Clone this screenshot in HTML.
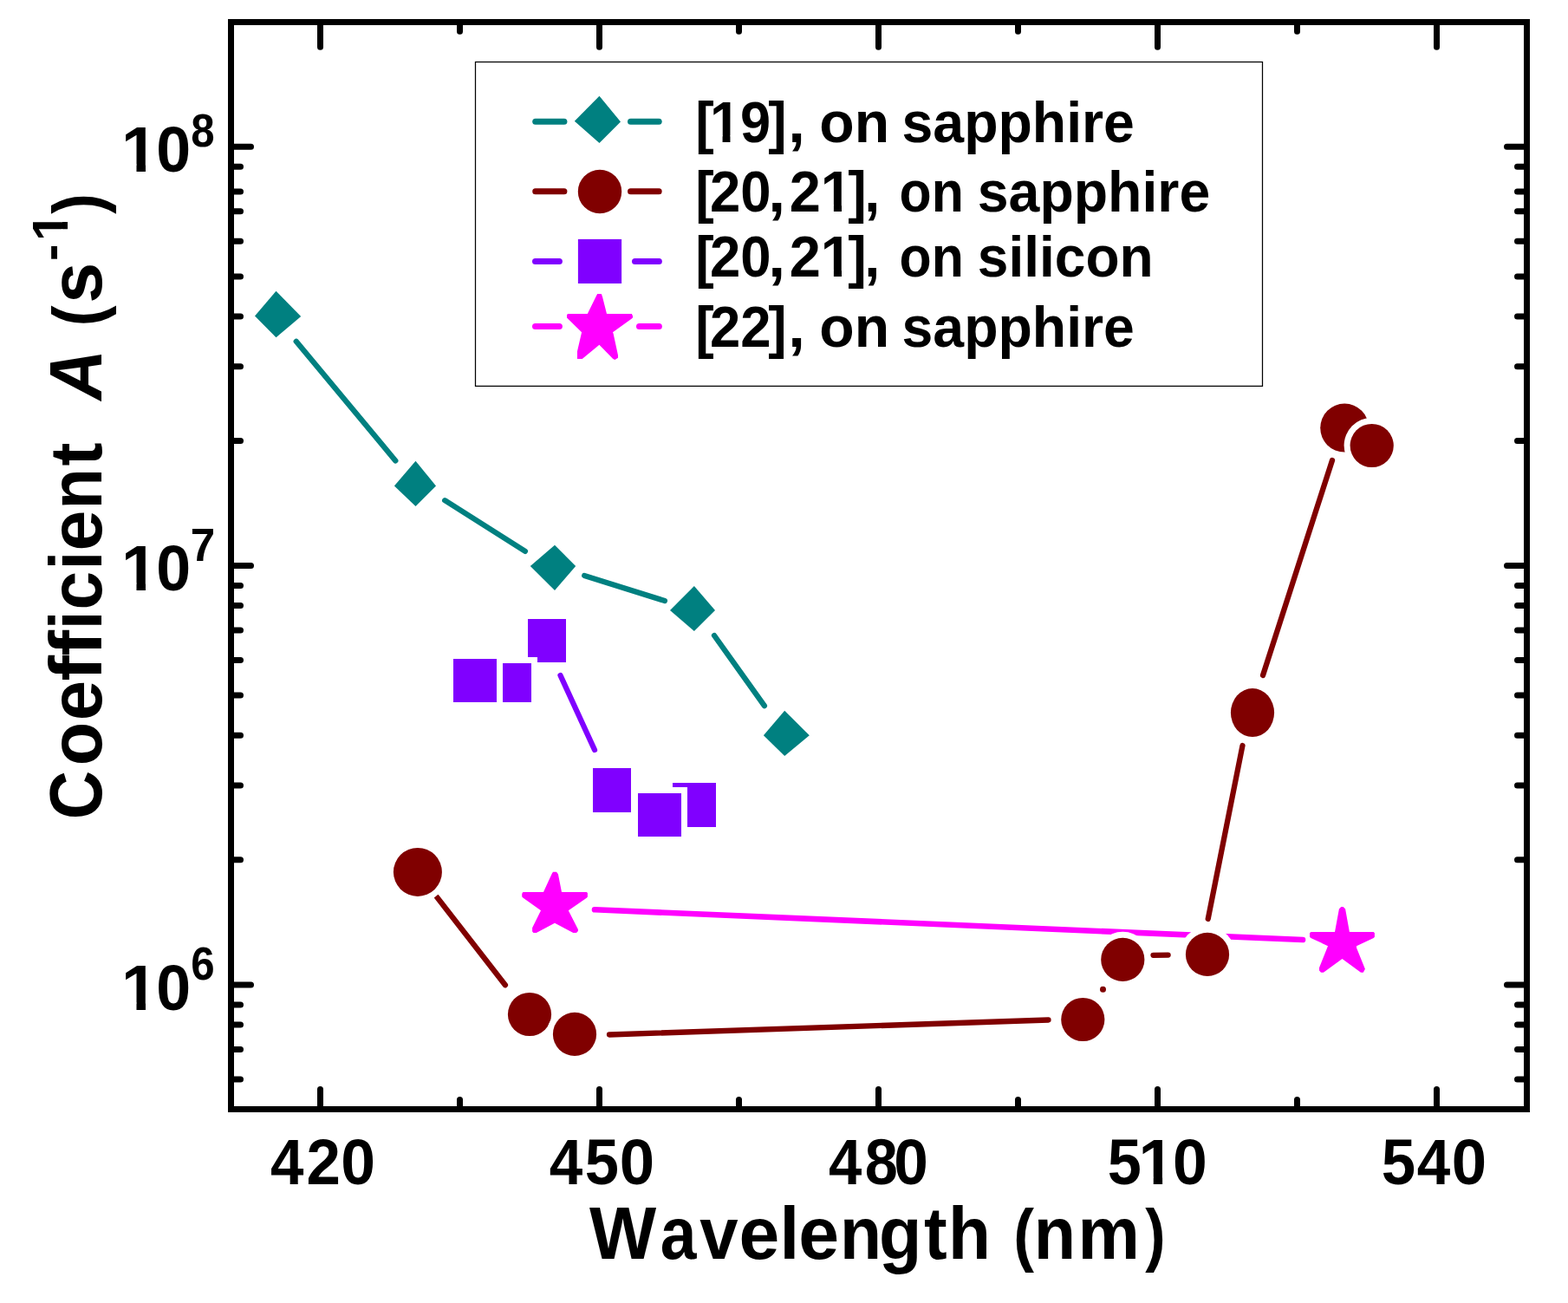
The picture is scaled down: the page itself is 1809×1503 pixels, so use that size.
<!DOCTYPE html>
<html><head><meta charset="utf-8"><title>Coefficient A vs Wavelength</title>
<style>
html,body{margin:0;padding:0;background:#fff;overflow:hidden;}
svg{display:block;}
text{font-family:'Liberation Sans', Arial, sans-serif;font-weight:bold;fill:#000;font-variant-ligatures:none;font-kerning:none;}
</style></head>
<body>
<svg width="1809" height="1503" viewBox="0 0 1809 1503">
<rect width="1809" height="1503" fill="#fff"/>
<rect x="266.5" y="25.5" width="1495.0" height="1254.0" fill="none" stroke="#000" stroke-width="7"/>
<path d="M369.5 1279.5L369.5 1256.5M369.5 25.5L369.5 54.3M691.5 1279.5L691.5 1256.5M691.5 25.5L691.5 54.3M1013.5 1279.5L1013.5 1256.5M1013.5 25.5L1013.5 54.3M1335.5 1279.5L1335.5 1256.5M1335.5 25.5L1335.5 54.3M1657.5 1279.5L1657.5 1256.5M1657.5 25.5L1657.5 54.3M530.5 1279.5L530.5 1268.5M530.5 25.5L530.5 36.3M852.5 1279.5L852.5 1268.5M852.5 25.5L852.5 36.3M1174.5 1279.5L1174.5 1268.5M1174.5 25.5L1174.5 36.3M1496.5 1279.5L1496.5 1268.5M1496.5 25.5L1496.5 36.3M266.5 169.3L289.5 169.3M1761.5 169.3L1738.5 169.3M266.5 652.5L289.5 652.5M1761.5 652.5L1738.5 652.5M266.5 1136L289.5 1136M1761.5 1136L1738.5 1136M266.5 192.2L277.5 192.2M1761.5 192.2L1750.5 192.2M266.5 220.9L277.5 220.9M1761.5 220.9L1750.5 220.9M266.5 243.8L277.5 243.8M1761.5 243.8L1750.5 243.8M266.5 278.3L277.5 278.3M1761.5 278.3L1750.5 278.3M266.5 318.9L277.5 318.9M1761.5 318.9L1750.5 318.9M266.5 364.9L277.5 364.9M1761.5 364.9L1750.5 364.9M266.5 422.7L277.5 422.7M1761.5 422.7L1750.5 422.7M266.5 508.5L277.5 508.5M1761.5 508.5L1750.5 508.5M266.5 675.5L277.5 675.5M1761.5 675.5L1750.5 675.5M266.5 698.6L277.5 698.6M1761.5 698.6L1750.5 698.6M266.5 727.1L277.5 727.1M1761.5 727.1L1750.5 727.1M266.5 761.5L277.5 761.5M1761.5 761.5L1750.5 761.5M266.5 802.1L277.5 802.1M1761.5 802.1L1750.5 802.1M266.5 848.2L277.5 848.2M1761.5 848.2L1750.5 848.2M266.5 905.9L277.5 905.9M1761.5 905.9L1750.5 905.9M266.5 991.8L277.5 991.8M1761.5 991.8L1750.5 991.8M266.5 1159L277.5 1159M1761.5 1159L1750.5 1159M266.5 1182L277.5 1182M1761.5 1182L1750.5 1182M266.5 1210.5L277.5 1210.5M1761.5 1210.5L1750.5 1210.5M266.5 1245L277.5 1245M1761.5 1245L1750.5 1245" stroke="#000" stroke-width="7" stroke-linecap="round" fill="none"/>
<text><tspan x="140.08" y="197.8" font-size="75" textLength="41.71" lengthAdjust="spacingAndGlyphs">1</tspan><tspan x="180.16" y="197.8" font-size="75" textLength="39.88" lengthAdjust="spacingAndGlyphs">0</tspan><tspan x="220.24" y="169.4" font-size="53" textLength="27.38" lengthAdjust="spacingAndGlyphs">8</tspan></text><rect x="143.7" y="189.55" width="13.78" height="9.85" fill="#fff"/><rect x="167.97" y="189.55" width="12.83" height="9.85" fill="#fff"/>
<text><tspan x="140.08" y="680.8" font-size="75" textLength="41.71" lengthAdjust="spacingAndGlyphs">1</tspan><tspan x="180.16" y="680.8" font-size="75" textLength="39.88" lengthAdjust="spacingAndGlyphs">0</tspan><tspan x="219.8" y="646.9" font-size="53" textLength="28.45" lengthAdjust="spacingAndGlyphs">7</tspan></text><rect x="143.7" y="672.55" width="13.78" height="9.85" fill="#fff"/><rect x="167.97" y="672.55" width="12.83" height="9.85" fill="#fff"/>
<text><tspan x="140.08" y="1164.8" font-size="75" textLength="41.71" lengthAdjust="spacingAndGlyphs">1</tspan><tspan x="180.16" y="1164.8" font-size="75" textLength="39.88" lengthAdjust="spacingAndGlyphs">0</tspan><tspan x="220.2" y="1129.7" font-size="53" textLength="27.38" lengthAdjust="spacingAndGlyphs">6</tspan></text><rect x="143.7" y="1156.55" width="13.78" height="9.85" fill="#fff"/><rect x="167.97" y="1156.55" width="12.83" height="9.85" fill="#fff"/>
<text><tspan x="311.95" y="1365.9" font-size="74" textLength="38.42" lengthAdjust="spacingAndGlyphs">4</tspan><tspan x="353.44" y="1365.9" font-size="74" textLength="39.39" lengthAdjust="spacingAndGlyphs">2</tspan><tspan x="393.17" y="1365.9" font-size="74" textLength="39.76" lengthAdjust="spacingAndGlyphs">0</tspan></text>
<text><tspan x="633.85" y="1365.9" font-size="74" textLength="38.52" lengthAdjust="spacingAndGlyphs">4</tspan><tspan x="674.73" y="1365.9" font-size="74" textLength="39.23" lengthAdjust="spacingAndGlyphs">5</tspan><tspan x="714.83" y="1365.9" font-size="74" textLength="40.34" lengthAdjust="spacingAndGlyphs">0</tspan></text>
<text><tspan x="955.96" y="1365.9" font-size="74" textLength="38.31" lengthAdjust="spacingAndGlyphs">4</tspan><tspan x="997.73" y="1365.9" font-size="74" textLength="38.08" lengthAdjust="spacingAndGlyphs">8</tspan><tspan x="1031.18" y="1365.9" font-size="74" textLength="39.64" lengthAdjust="spacingAndGlyphs">0</tspan></text>
<text><tspan x="1277.74" y="1365.9" font-size="74" textLength="39.12" lengthAdjust="spacingAndGlyphs">5</tspan><tspan x="1313.58" y="1365.9" font-size="74" textLength="41.16" lengthAdjust="spacingAndGlyphs">1</tspan><tspan x="1353.07" y="1365.9" font-size="74" textLength="39.76" lengthAdjust="spacingAndGlyphs">0</tspan></text><rect x="1317.15" y="1357.75" width="13.59" height="9.75" fill="#fff"/><rect x="1341.1" y="1357.75" width="12.65" height="9.75" fill="#fff"/>
<text><tspan x="1593.72" y="1365.9" font-size="74" textLength="39.35" lengthAdjust="spacingAndGlyphs">5</tspan><tspan x="1634.85" y="1365.9" font-size="74" textLength="38.52" lengthAdjust="spacingAndGlyphs">4</tspan><tspan x="1674.83" y="1365.9" font-size="74" textLength="40.34" lengthAdjust="spacingAndGlyphs">0</tspan></text>
<text><tspan x="679.92" y="1452" font-size="84.5" textLength="77.16" lengthAdjust="spacingAndGlyphs">W</tspan><tspan x="761.8" y="1452" font-size="84.5" textLength="41.72" lengthAdjust="spacingAndGlyphs">a</tspan><tspan x="807.29" y="1452" font-size="84.5" textLength="44.36" lengthAdjust="spacingAndGlyphs">v</tspan><tspan x="852.42" y="1452" font-size="84.5" textLength="46.76" lengthAdjust="spacingAndGlyphs">e</tspan><tspan x="899.4" y="1452" font-size="84.5" textLength="22.68" lengthAdjust="spacingAndGlyphs">l</tspan><tspan x="921.31" y="1452" font-size="84.5" textLength="46.87" lengthAdjust="spacingAndGlyphs">e</tspan><tspan x="968.91" y="1452" font-size="84.5" textLength="48.07" lengthAdjust="spacingAndGlyphs">n</tspan><tspan x="1014.08" y="1452" font-size="84.5" textLength="49.43" lengthAdjust="spacingAndGlyphs">g</tspan><tspan x="1066.02" y="1452" font-size="84.5" textLength="26.65" lengthAdjust="spacingAndGlyphs">t</tspan><tspan x="1094.1" y="1452" font-size="84.5" textLength="48.97" lengthAdjust="spacingAndGlyphs">h</tspan> <tspan x="1169.35" y="1451" font-size="80.5" textLength="23.72" lengthAdjust="spacingAndGlyphs">(</tspan><tspan x="1192.69" y="1452" font-size="84.5" textLength="48.32" lengthAdjust="spacingAndGlyphs">n</tspan><tspan x="1243.61" y="1452" font-size="84.5" textLength="71.37" lengthAdjust="spacingAndGlyphs">m</tspan><tspan x="1321.13" y="1451" font-size="80.5" textLength="23.36" lengthAdjust="spacingAndGlyphs">)</tspan></text>
<g transform="translate(117.1 0) rotate(-90)"><text><tspan x="-945.21" y="0" font-size="84.5" textLength="56.44" lengthAdjust="spacingAndGlyphs">C</tspan><tspan x="-883.23" y="0" font-size="84.5" textLength="50.45" lengthAdjust="spacingAndGlyphs">o</tspan><tspan x="-831.25" y="0" font-size="84.5" textLength="46.3" lengthAdjust="spacingAndGlyphs">e</tspan><tspan x="-785.52" y="0" font-size="84.5" textLength="29.65" lengthAdjust="spacingAndGlyphs">f</tspan><tspan x="-756.42" y="0" font-size="84.5" textLength="29.65" lengthAdjust="spacingAndGlyphs">f</tspan><tspan x="-726.3" y="0" font-size="84.5" textLength="21.87" lengthAdjust="spacingAndGlyphs">i</tspan><tspan x="-703.53" y="0" font-size="84.5" textLength="44.58" lengthAdjust="spacingAndGlyphs">c</tspan><tspan x="-657.6" y="0" font-size="84.5" textLength="21.87" lengthAdjust="spacingAndGlyphs">i</tspan><tspan x="-635.5" y="0" font-size="84.5" textLength="46.99" lengthAdjust="spacingAndGlyphs">e</tspan><tspan x="-587.41" y="0" font-size="84.5" textLength="47.31" lengthAdjust="spacingAndGlyphs">n</tspan><tspan x="-537.59" y="0" font-size="84.5" textLength="26.98" lengthAdjust="spacingAndGlyphs">t</tspan> <tspan x="-461.55" y="0" font-size="84.5" font-style="italic" textLength="58.28" lengthAdjust="spacingAndGlyphs">A</tspan> <tspan x="-376.35" y="0" font-size="80.5" textLength="23.72" lengthAdjust="spacingAndGlyphs">(</tspan><tspan x="-349.67" y="0" font-size="84.5" textLength="47.04" lengthAdjust="spacingAndGlyphs">s</tspan><tspan x="-301.08" y="-39.6" font-size="57" textLength="19.41" lengthAdjust="spacingAndGlyphs">-</tspan><tspan x="-277.91" y="-39.6" font-size="57" textLength="32.75" lengthAdjust="spacingAndGlyphs">1</tspan><tspan x="-246.87" y="0" font-size="80.5" textLength="23.48" lengthAdjust="spacingAndGlyphs">)</tspan></text><rect x="-275.06" y="-46.02" width="10.8" height="8.02" fill="#fff"/><rect x="-255.99" y="-46.02" width="10.05" height="8.02" fill="#fff"/></g>
<rect x="548.5" y="71.5" width="908" height="373.9" fill="none" stroke="#000" stroke-width="1.25"/>
<text><tspan x="802.37" y="163.9" font-size="67.5" textLength="21.52" lengthAdjust="spacingAndGlyphs">[</tspan><tspan x="818.92" y="163.9" font-size="67.5" textLength="70.33" lengthAdjust="spacingAndGlyphs">19</tspan><tspan x="886.22" y="163.9" font-size="67.5" textLength="21.39" lengthAdjust="spacingAndGlyphs">]</tspan><tspan x="909.21" y="163.9" font-size="67.5" textLength="19.61" lengthAdjust="spacingAndGlyphs">,</tspan> <tspan x="945.32" y="163.9" font-size="67.5" textLength="80.78" lengthAdjust="spacingAndGlyphs">on</tspan> <tspan x="1040.54" y="163.9" font-size="67.5" textLength="268.36" lengthAdjust="spacingAndGlyphs">sapphire</tspan></text><rect x="821.97" y="156.41" width="11.6" height="9.09" fill="#fff"/><rect x="842.45" y="156.41" width="10.8" height="9.09" fill="#fff"/>
<text><tspan x="802.37" y="243.7" font-size="67.5" textLength="21.52" lengthAdjust="spacingAndGlyphs">[</tspan><tspan x="818.9" y="243.7" font-size="67.5" textLength="70.6" lengthAdjust="spacingAndGlyphs">20</tspan><tspan x="886.16" y="243.7" font-size="67.5" textLength="19.81" lengthAdjust="spacingAndGlyphs">,</tspan><tspan x="910.75" y="243.7" font-size="67.5" textLength="72.19" lengthAdjust="spacingAndGlyphs">21</tspan><tspan x="978.21" y="243.7" font-size="67.5" textLength="21.52" lengthAdjust="spacingAndGlyphs">]</tspan><tspan x="997.19" y="243.7" font-size="67.5" textLength="18.06" lengthAdjust="spacingAndGlyphs">,</tspan> <tspan x="1037.53" y="243.7" font-size="67.5" textLength="74.24" lengthAdjust="spacingAndGlyphs">on</tspan> <tspan x="1127.74" y="243.7" font-size="67.5" textLength="268.47" lengthAdjust="spacingAndGlyphs">sapphire</tspan></text><rect x="949.98" y="236.21" width="11.91" height="9.09" fill="#fff"/><rect x="971" y="236.21" width="11.09" height="9.09" fill="#fff"/>
<text><tspan x="802.37" y="318.9" font-size="67.5" textLength="21.52" lengthAdjust="spacingAndGlyphs">[</tspan><tspan x="818.9" y="318.9" font-size="67.5" textLength="70.6" lengthAdjust="spacingAndGlyphs">20</tspan><tspan x="886.16" y="318.9" font-size="67.5" textLength="19.81" lengthAdjust="spacingAndGlyphs">,</tspan><tspan x="910.75" y="318.9" font-size="67.5" textLength="72.19" lengthAdjust="spacingAndGlyphs">21</tspan><tspan x="978.21" y="318.9" font-size="67.5" textLength="21.52" lengthAdjust="spacingAndGlyphs">]</tspan><tspan x="997.19" y="318.9" font-size="67.5" textLength="18.06" lengthAdjust="spacingAndGlyphs">,</tspan> <tspan x="1037.53" y="318.9" font-size="67.5" textLength="74.24" lengthAdjust="spacingAndGlyphs">on</tspan> <tspan x="1127.75" y="318.9" font-size="67.5" textLength="202.93" lengthAdjust="spacingAndGlyphs">silicon</tspan></text><rect x="949.98" y="311.41" width="11.91" height="9.09" fill="#fff"/><rect x="971" y="311.41" width="11.09" height="9.09" fill="#fff"/>
<text><tspan x="802.37" y="399.9" font-size="67.5" textLength="21.52" lengthAdjust="spacingAndGlyphs">[</tspan><tspan x="818.9" y="399.9" font-size="67.5" textLength="70.54" lengthAdjust="spacingAndGlyphs">22</tspan><tspan x="886.22" y="399.9" font-size="67.5" textLength="21.39" lengthAdjust="spacingAndGlyphs">]</tspan><tspan x="909.21" y="399.9" font-size="67.5" textLength="19.61" lengthAdjust="spacingAndGlyphs">,</tspan> <tspan x="945.32" y="399.9" font-size="67.5" textLength="80.78" lengthAdjust="spacingAndGlyphs">on</tspan> <tspan x="1040.54" y="399.9" font-size="67.5" textLength="268.36" lengthAdjust="spacingAndGlyphs">sapphire</tspan></text>
<line x1="617.7" y1="140.3" x2="650.9" y2="140.3" stroke="#008080" stroke-width="7" stroke-linecap="round"/>
<line x1="727.5" y1="140.3" x2="760.2" y2="140.3" stroke="#008080" stroke-width="7" stroke-linecap="round"/>
<polygon points="691.5,110.8 716,140.4 691.5,165.1 662.8,139.8" fill="#008080"/>
<line x1="617.7" y1="220.7" x2="650.9" y2="220.7" stroke="#800000" stroke-width="7" stroke-linecap="round"/>
<line x1="727.5" y1="220.7" x2="760.2" y2="220.7" stroke="#800000" stroke-width="7" stroke-linecap="round"/>
<circle cx="692" cy="221" r="25.2" fill="#800000"/>
<line x1="617.5" y1="301.4" x2="645.4" y2="301.4" stroke="#8000FF" stroke-width="7" stroke-linecap="round"/>
<line x1="732.5" y1="301.4" x2="760.4" y2="301.4" stroke="#8000FF" stroke-width="7" stroke-linecap="round"/>
<rect x="666.9" y="275.9" width="50.2" height="51.1" fill="#8000FF"/>
<line x1="617.5" y1="376.4" x2="645.4" y2="376.4" stroke="#FF00FF" stroke-width="7" stroke-linecap="round"/>
<line x1="737.5" y1="376.4" x2="760.4" y2="376.4" stroke="#FF00FF" stroke-width="7" stroke-linecap="round"/>
<polygon points="689.2,339 693.8,339 695,342.3 700,362 728.9,362 730.1,364.7 730.1,366.2 728.9,367.4 707,383.3 707.6,384.8 713,409.7 713,412.7 709.4,415.1 707.3,413.9 691.4,397.7 671.7,413.9 666,413.9 666,405.2 671.1,383.3 654,366.5 654,363.2 655.1,362 677.8,362 688.1,341.1" fill="#FF00FF"/>
<line x1="686" y1="1049.3" x2="1503" y2="1084" stroke="#FF00FF" stroke-width="6.6" stroke-linecap="round"/>
<polygon points="638.1,1005.8 642,1005.8 643.9,1008.3 648,1028.9 676.8,1028.9 677.9,1030.1 677.9,1034.5 676.8,1035.7 655.8,1050.3 666.9,1071.9 666.9,1074 665,1076 661.3,1076 640,1064.7 618.8,1076 615.5,1076 614.1,1074.4 614.1,1070.2 624,1050.3 603.3,1035.4 602.2,1034.3 602.2,1031 603.3,1028.9 627,1028.9 637,1007.2" fill="#FF00FF"/>
<polygon points="1547.3,1046 1549.7,1046 1552.1,1048.4 1556.9,1075 1584.7,1075 1585.9,1076.2 1585.9,1080.7 1584.7,1081.9 1565,1091.2 1565,1093.3 1574.9,1117.8 1572.8,1121.7 1570,1121.7 1548.5,1105.9 1526.9,1121.7 1524,1121.7 1522,1119.6 1522,1116.3 1532,1091.2 1512.3,1081.9 1511,1080.7 1511,1076.2 1512.3,1075 1540,1075 1544.9,1048.4" fill="#FF00FF"/>
<line x1="646.5" y1="779" x2="686" y2="865" stroke="#8000FF" stroke-width="6.3" stroke-linecap="round"/>
<rect x="523" y="760" width="50" height="50" fill="#8000FF"/>
<rect x="580" y="765" width="33" height="45" fill="#8000FF"/>
<polygon points="609,714 653,714 653,764 620,764 620,758 609,758" fill="#8000FF"/>
<rect x="684" y="886" width="44" height="51" fill="#8000FF"/>
<rect x="736" y="915" width="50" height="50" fill="#8000FF"/>
<polygon points="776,903 826,903 826,954 793,954 793,908 776,908" fill="#8000FF"/>
<line x1="341.7" y1="393.8" x2="456.3" y2="531.4" stroke="#008080" stroke-width="6.3" stroke-linecap="round"/>
<line x1="513.2" y1="577.2" x2="605.9" y2="635.9" stroke="#008080" stroke-width="6.3" stroke-linecap="round"/>
<line x1="674.2" y1="664" x2="766.9" y2="693" stroke="#008080" stroke-width="6.3" stroke-linecap="round"/>
<line x1="824" y1="733" x2="881.9" y2="814.1" stroke="#008080" stroke-width="6.3" stroke-linecap="round"/>
<polygon points="318.5,335.7 347.2,364.9 318.5,389.2 294,364.5" fill="#008080"/>
<polygon points="479.5,531.8 503,560.4 479.5,583.9 454.9,560.4" fill="#008080"/>
<polygon points="640,628.8 664.2,652.9 640,681 611.8,652.9" fill="#008080"/>
<polygon points="800.9,675.9 825,703.9 800.9,728.1 773,703.9" fill="#008080"/>
<polygon points="905.2,819.8 933.8,848.2 905.2,872 880.9,848.2" fill="#008080"/>
<line x1="504.1" y1="1034.9" x2="582.9" y2="1136.2" stroke="#800000" stroke-width="6.3" stroke-linecap="round"/>
<line x1="703" y1="1193.5" x2="1209.5" y2="1176.5" stroke="#800000" stroke-width="6.3" stroke-linecap="round"/>
<line x1="1330.5" y1="1101.8" x2="1347.6" y2="1101.6" stroke="#800000" stroke-width="6.3" stroke-linecap="round"/>
<line x1="1393.7" y1="1060" x2="1433.5" y2="860" stroke="#800000" stroke-width="6.3" stroke-linecap="round"/>
<line x1="1457" y1="779" x2="1537" y2="531" stroke="#800000" stroke-width="6.3" stroke-linecap="round"/>
<circle cx="1272.5" cy="1141.3" r="3.5" fill="#800000"/>
<ellipse cx="481.9" cy="1005.9" rx="35" ry="35" fill="#fff"/>
<ellipse cx="481.9" cy="1005.9" rx="28" ry="28" fill="#800000"/>
<ellipse cx="611" cy="1170" rx="32.1" ry="32.1" fill="#fff"/>
<ellipse cx="611" cy="1170" rx="25.1" ry="25.1" fill="#800000"/>
<ellipse cx="663" cy="1192.9" rx="32.1" ry="32.1" fill="#fff"/>
<ellipse cx="663" cy="1192.9" rx="25.1" ry="25.1" fill="#800000"/>
<ellipse cx="1249.3" cy="1176" rx="32.1" ry="32.1" fill="#fff"/>
<ellipse cx="1249.3" cy="1176" rx="25.1" ry="25.1" fill="#800000"/>
<ellipse cx="1295.3" cy="1106.9" rx="32.1" ry="32.1" fill="#fff"/>
<ellipse cx="1295.3" cy="1106.9" rx="25.1" ry="25.1" fill="#800000"/>
<ellipse cx="1393" cy="1100.9" rx="32.1" ry="32.1" fill="#fff"/>
<ellipse cx="1393" cy="1100.9" rx="25.1" ry="25.1" fill="#800000"/>
<ellipse cx="1445" cy="822.1" rx="32.1" ry="35" fill="#fff"/>
<ellipse cx="1445" cy="822.1" rx="25.1" ry="28" fill="#800000"/>
<ellipse cx="1551.2" cy="493.6" rx="35" ry="35" fill="#fff"/>
<ellipse cx="1551.2" cy="493.6" rx="28" ry="28" fill="#800000"/>
<ellipse cx="1582.7" cy="514" rx="32.1" ry="32.1" fill="#fff"/>
<ellipse cx="1582.7" cy="514" rx="25.1" ry="25.1" fill="#800000"/>
</svg>
</body></html>
